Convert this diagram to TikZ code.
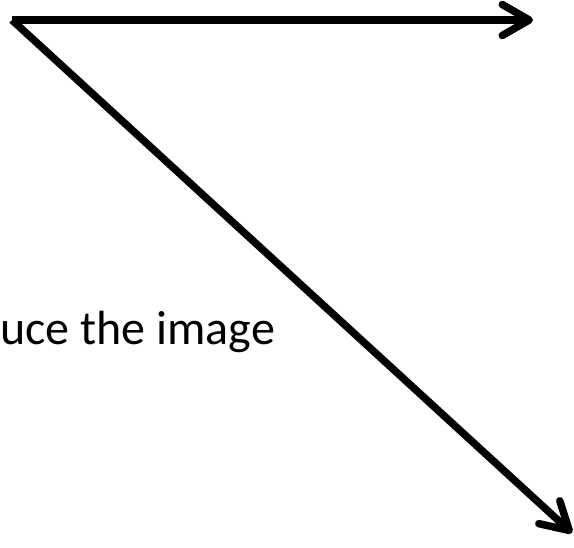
\documentclass[tikz,border=0pt]{standalone}
\usepackage{fontspec}
\setmainfont{Carlito}
\usepackage{tikz}
\usetikzlibrary{positioning, calc, arrows.meta}

\begin{document}
\begin{tikzpicture}[x=1pt, y=1pt,
    arrowline/.style={line width=7.5pt, -{Straight Barb[round, length=27pt, width=31pt]}}]
    \useasboundingbox (0,0) rectangle (574,-548);

    % shared start and the two ends
    \coordinate (start) at (12,-20);
    \coordinate (east) at (533,-20);
    \coordinate (southeast) at (572,-533);

    % arrows
    \draw[arrowline] (start) -- (east);
    \draw[arrowline] (start) -- (southeast);

    % label (cut off at the left edge)
    \node[anchor=base west, inner sep=0pt, font=\fontsize{48}{58}\selectfont]
        (caption) at (0,-345) {uce the image};
\end{tikzpicture}
\end{document}
